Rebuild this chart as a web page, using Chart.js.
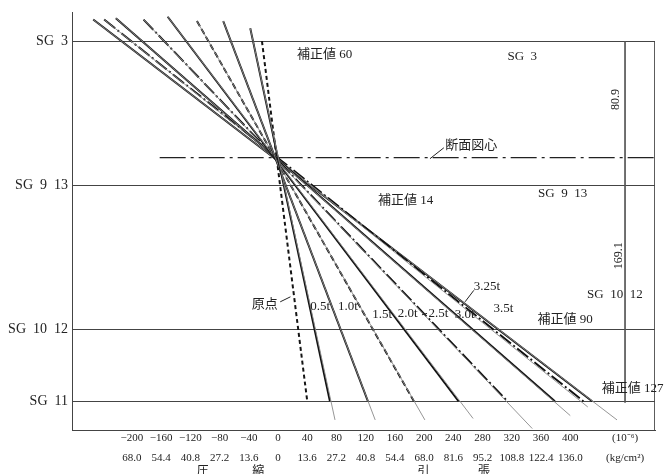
<!DOCTYPE html>
<html><head><meta charset="utf-8">
<script src="https://cdn.jsdelivr.net/npm/chart.js@4.4.0/dist/chart.umd.min.js"></script>
<style>html,body{margin:0;padding:0;background:#fff}#wrap{width:666px;height:474px;position:relative}</style>
</head><body><div id="wrap"><canvas id="c"></canvas></div>
<script>
// ---- data (strain in 1e-6, depth in cm from SG3) ----
const loads = ['0.5t','1.0t','1.5t','2.0t','2.5t','3.0t','3.25t','3.5t'];
const topStrain = [-38,-75,-111,-151,-184,-222,-238,-253];
const topDepth = [-9,-14,-14,-17,-15,-16,-15,-15];
const sg11Strain = [71,123,186,247,314,379,418,430];
const tailStrain = [78,133,201,267,348,400,424,464];
const tailDepth = [263,263,263,262,269,260,254,263];
const originStrain = [-22,40];
const originDepth = [0,250];
const gaugeNames = ['SG  3','SG  9  13','SG  10  12','SG  11'];
const gaugeDepths = [0,100,200,250];
const centroidDepth = 80.9;
const sectionBottom = 270;
const strainTicks = [-200,-160,-120,-80,-40,0,40,80,120,160,200,240,280,320,360,400];
const stressLabels = ['68.0','54.4','40.8','27.2','13.6','0','13.6','27.2','40.8','54.4','68.0','81.6','95.2','108.8','122.4','136.0'];
const unitLabels = ['(10⁻⁶)','(kg/cm²)'];
const dimLabels = ['80.9','169.1'];

// ---- layout / styling ----
const X_MIN=-282, X_MAX=516, Y_MIN=-20, Y_MAX=270;
const UNIT_X = 475, DIM_X = 475, CENTROID_START = -162;
const FONT = "'Liberation Serif','Noto Sans CJK JP',serif";
const lineStyles = ['solid','solid','dash','solid','dashdot','solid','dashdot','solid'];
const dashOf = s => s==='dash' ? [6,3] : s==='dashdot' ? [14,3,2,3] : [];

const datasets = [];
loads.forEach((name,i)=>{
  datasets.push({label:name+' thin', data:[{x:topStrain[i],y:topDepth[i]},{x:tailStrain[i],y:tailDepth[i]}],
    borderColor:'#8a8a8a', borderWidth:0.9});
  datasets.push({label:name, data:[{x:topStrain[i],y:topDepth[i]},{x:sg11Strain[i],y:gaugeDepths[3]}],
    borderColor:'#111', borderWidth:1.9, borderDash:dashOf(lineStyles[i])});
});
datasets.push({label:'原点', data:originStrain.map((v,k)=>({x:v,y:originDepth[k]})),
  borderColor:'#151515', borderWidth:2, borderDash:[4,3]});
datasets.push({label:'断面図心', data:[{x:CENTROID_START,y:centroidDepth},{x:X_MAX,y:centroidDepth}],
  borderColor:'#222', borderWidth:1.3, borderDash:[26,5,3,5]});
datasets.push({label:'frame', data:[{x:X_MAX,y:gaugeDepths[0]},{x:X_MAX,y:sectionBottom}],
  borderColor:'#444', borderWidth:1});
datasets.push({label:'dim', data:[{x:DIM_X,y:gaugeDepths[0]},{x:DIM_X,y:gaugeDepths[3]+1}],
  borderColor:'#555', borderWidth:0.9});
datasets.forEach(d=>{d.showLine=true; d.pointRadius=0; d.fill=false;});

const notes = [
  {t:'補正値 60', x:26, y:9.6},
  {t:'SG  3', x:314, y:11},
  {t:'断面図心', x:229, y:72.6},
  {t:'補正値 14', x:137, y:111},
  {t:'SG  9  13', x:356, y:106},
  {t:'3.25t', x:268, y:170.7},
  {t:'SG  10  12', x:423, y:176},
  {t:'3.5t', x:295, y:186},
  {t:'補正値 90', x:355, y:193},
  {t:'補正値 127', x:443, y:241},
  {t:'原点', x:-36, y:183},
  {t:'0.5t', x:44, y:184},
  {t:'1.0t', x:82, y:184},
  {t:'1.5t', x:129, y:190},
  {t:'2.0t', x:164, y:189},
  {t:'2.5t', x:206, y:189},
  {t:'3.0t', x:242, y:190}
];
const leaders = [
  [[208,81.6],[227,74]],
  [[256,181],[268,173]],
  [[3,181],[17,177.5]],
  [[197,190],[204,189]]
];
const rotatedNotes = [{t:dimLabels[0], x:463, y:40.4},{t:dimLabels[1], x:466, y:149}];
const bottomWords = [{t:'圧',x:-103},{t:'縮',x:-27},{t:'引',x:199},{t:'張',x:282}];

const annot = {
  id:'annot',
  afterDatasetsDraw(chart){
    const {ctx, scales:{x,y}} = chart;
    ctx.save();
    ctx.fillStyle='#222';
    ctx.font = '13px '+FONT;
    ctx.textBaseline='middle'; ctx.textAlign='left';
    notes.forEach(n=>ctx.fillText(n.t, x.getPixelForValue(n.x), y.getPixelForValue(n.y)));
    ctx.strokeStyle='#222'; ctx.lineWidth=1;
    leaders.forEach(l=>{ctx.beginPath();ctx.moveTo(x.getPixelForValue(l[0][0]),y.getPixelForValue(l[0][1]));
      ctx.lineTo(x.getPixelForValue(l[1][0]),y.getPixelForValue(l[1][1]));ctx.stroke();});
    ctx.font = '12px '+FONT; ctx.textAlign='center';
    rotatedNotes.forEach(n=>{ctx.save();ctx.translate(x.getPixelForValue(n.x),y.getPixelForValue(n.y));
      ctx.rotate(-Math.PI/2);ctx.fillText(n.t,0,0);ctx.restore();});
    ctx.font = '12px '+FONT;
    bottomWords.forEach(w=>ctx.fillText(w.t, x.getPixelForValue(w.x), x.bottom-2));
    ctx.restore();
  }
};

new Chart(document.getElementById('c'), {
  type:'scatter',
  data:{datasets},
  options:{
    responsive:true, maintainAspectRatio:false, animation:false,
    layout:{padding:{top:7,right:11,left:0,bottom:0}},
    plugins:{legend:{display:false}, tooltip:{enabled:false}},
    scales:{
      x:{type:'linear', min:X_MIN, max:X_MAX,
        afterBuildTicks:s=>{s.ticks = strainTicks.concat([UNIT_X]).map(v=>({value:v}));},
        afterFit:s=>{s.height=44;},
        grid:{display:false, drawTicks:false},
        border:{display:true, color:'#444', width:1},
        ticks:{autoSkip:false, maxRotation:0, padding:-2, color:'#222',
          font:{family:FONT, size:11, lineHeight:1.8},
          callback:(v,i)=> i<strainTicks.length ? [ (strainTicks[i]<0?'−'+(-strainTicks[i]):String(strainTicks[i])), stressLabels[i]] : unitLabels}
      },
      y:{type:'linear', reverse:true, min:Y_MIN, max:Y_MAX,
        afterBuildTicks:s=>{s.ticks = gaugeDepths.map(v=>({value:v}));},
        afterFit:s=>{s.width=72;},
        grid:{display:true, drawTicks:false, color:'#444', lineWidth:1},
        border:{display:true, color:'#444', width:1},
        ticks:{autoSkip:false, padding:4, color:'#222', font:{family:FONT, size:14},
          callback:(v,i)=>gaugeNames[i]}
      }
    }
  },
  plugins:[annot]
});
</script></body></html>
